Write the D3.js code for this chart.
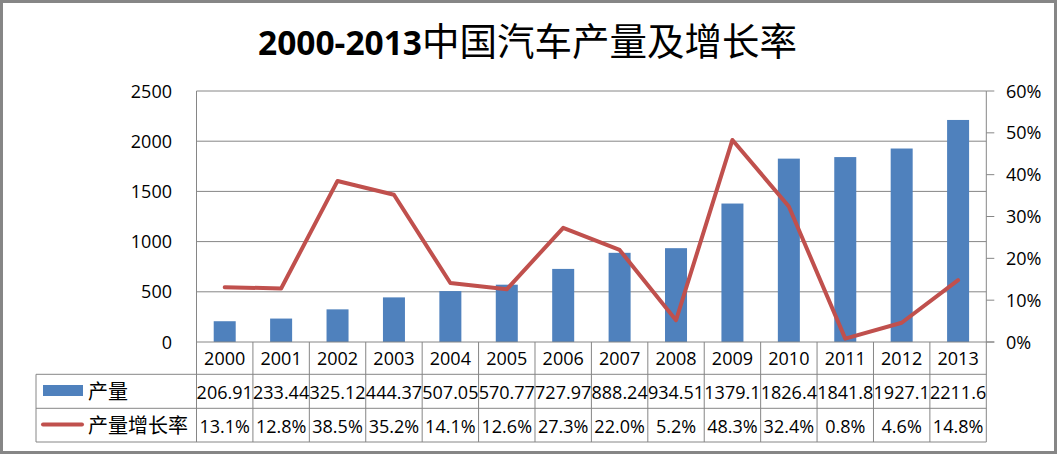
<!DOCTYPE html>
<html>
<head>
<meta charset="utf-8">
<script src="https://cdn.jsdelivr.net/npm/d3@7"></script>
<style>
    html, body { margin: 0; padding: 0; background: white; }
    svg { display: block; }
</style>
</head>
<body>
<svg id="chart"></svg>
<script>
'use strict';

const years = ['2000', '2001', '2002', '2003', '2004', '2005', '2006', '2007', '2008', '2009', '2010', '2011', '2012', '2013'];
const output = [206.91, 233.44, 325.12, 444.37, 507.05, 570.77, 727.97, 888.24, 934.51, 1379.1, 1826.4, 1841.8, 1927.1, 2211.6];
const growth = [13.1, 12.8, 38.5, 35.2, 14.1, 12.6, 27.3, 22.0, 5.2, 48.3, 32.4, 0.8, 4.6, 14.8];
const leftTicks = [0, 500, 1000, 1500, 2000, 2500];
const rightTicks = [0, 10, 20, 30, 40, 50, 60];
const seriesNames = ['产量', '产量增长率'];
const title = ['2000-2013', '中国汽车产量及增长率'];

const width = 1057;
const height = 454;
const plot = {left: 196.5, right: 986.3, top: 91, bottom: 342};
const rows = [342, 374.3, 408.3, 442];
const tableLeft = 36;

const numFont = '"Open Sans", sans-serif';
const cjkFont = '"Noto Sans CJK SC", sans-serif';
const gray = '#868686';
const blue = '#4F81BD';
const red = '#C0504D';

const svg = d3.select('#chart')
    .attr('width', width)
    .attr('height', height);

svg.append('rect')
    .attr('x', 1.5)
    .attr('y', 1.5)
    .attr('width', width - 3)
    .attr('height', height - 3)
    .attr('fill', 'white')
    .attr('stroke', gray)
    .attr('stroke-width', 3);

// title: bold latin digits + regular CJK
const titleText = svg.append('text')
    .attr('x', 258)
    .attr('y', 55)
    .attr('fill', 'black');
titleText.append('tspan')
    .attr('font-family', numFont)
    .attr('font-weight', 'bold')
    .attr('font-size', 33.5)
    .text(title[0]);
titleText.append('tspan')
    .attr('font-family', cjkFont)
    .attr('font-size', 37.5)
    .text(title[1]);

const x = d3.scaleBand()
    .domain(years)
    .range([plot.left, plot.right])
    .paddingInner(0.61)
    .paddingOuter(0.305);

const cell = d3.scaleBand()
    .domain(years)
    .range([plot.left, plot.right]);

const yLeft = d3.scaleLinear()
    .domain([0, 2500])
    .range([plot.bottom, plot.top]);

const yRight = d3.scaleLinear()
    .domain([0, 60])
    .range([plot.bottom, plot.top]);

// gridlines
svg.append('g')
    .attr('stroke', gray)
    .attr('stroke-width', 1)
    .selectAll('line')
    .data(leftTicks.slice(1))
    .join('line')
    .attr('x1', plot.left)
    .attr('x2', plot.right)
    .attr('y1', d => yLeft(d))
    .attr('y2', d => yLeft(d));

// left tick labels
svg.append('g')
    .attr('font-family', numFont)
    .attr('font-size', 18)
    .attr('text-anchor', 'end')
    .selectAll('text')
    .data(leftTicks)
    .join('text')
    .attr('x', 172)
    .attr('y', d => yLeft(d) + 6.5)
    .text(d => d);

// right axis
const right = svg.append('g');
right.append('line')
    .attr('x1', plot.right)
    .attr('x2', plot.right)
    .attr('y1', plot.top)
    .attr('y2', plot.bottom)
    .attr('stroke', gray);
right.selectAll('line.tick')
    .data(rightTicks)
    .join('line')
    .attr('class', 'tick')
    .attr('x1', plot.right)
    .attr('x2', plot.right + 8)
    .attr('y1', d => yRight(d))
    .attr('y2', d => yRight(d))
    .attr('stroke', gray);
right.selectAll('text')
    .data(rightTicks)
    .join('text')
    .attr('font-family', numFont)
    .attr('font-size', 18)
    .attr('x', 1006)
    .attr('y', d => yRight(d) + 6.5)
    .text(d => d + '%');

// bars
svg.append('g')
    .attr('fill', blue)
    .selectAll('rect')
    .data(years)
    .join('rect')
    .attr('x', d => x(d))
    .attr('width', x.bandwidth())
    .attr('y', (d, i) => yLeft(output[i]))
    .attr('height', (d, i) => plot.bottom - yLeft(output[i]));

// growth line
svg.append('path')
    .datum(growth)
    .attr('fill', 'none')
    .attr('stroke', red)
    .attr('stroke-width', 4)
    .attr('stroke-linejoin', 'round')
    .attr('stroke-linecap', 'round')
    .attr('d', d3.line()
        .x((d, i) => cell(years[i]) + cell.bandwidth() / 2)
        .y(d => yRight(d)));

// data table
const table = svg.append('g')
    .attr('stroke', gray)
    .attr('stroke-width', 1);

table.append('line')
    .attr('x1', plot.left)
    .attr('x2', plot.right + 8)
    .attr('y1', rows[0])
    .attr('y2', rows[0]);

table.selectAll('line.h')
    .data(rows.slice(1))
    .join('line')
    .attr('class', 'h')
    .attr('x1', tableLeft)
    .attr('x2', plot.right)
    .attr('y1', d => d)
    .attr('y2', d => d);

table.selectAll('line.v')
    .data([...years, 'end'])
    .join('line')
    .attr('class', 'v')
    .attr('x1', d => d === 'end' ? plot.right : cell(d))
    .attr('x2', d => d === 'end' ? plot.right : cell(d))
    .attr('y1', (d, i) => i === 0 ? plot.top : rows[0])
    .attr('y2', rows[3]);

table.append('line')
    .attr('x1', tableLeft)
    .attr('x2', tableLeft)
    .attr('y1', rows[1])
    .attr('y2', rows[3]);

const tableText = svg.append('g')
    .attr('font-family', numFont)
    .attr('font-size', 18)
    .attr('text-anchor', 'middle');

tableText.selectAll('text.year')
    .data(years)
    .join('text')
    .attr('class', 'year')
    .attr('x', d => cell(d) + cell.bandwidth() / 2)
    .attr('y', 365)
    .text(d => d);

tableText.selectAll('text.output')
    .data(output)
    .join('text')
    .attr('class', 'output')
    .attr('x', (d, i) => cell(years[i]) + cell.bandwidth() / 2)
    .attr('y', 398.5)
    .text(d => d);

tableText.selectAll('text.growth')
    .data(growth)
    .join('text')
    .attr('class', 'growth')
    .attr('x', (d, i) => cell(years[i]) + cell.bandwidth() / 2)
    .attr('y', 432.5)
    .text(d => d.toFixed(1) + '%');

// legend keys
svg.append('rect')
    .attr('x', 43)
    .attr('y', 385)
    .attr('width', 40)
    .attr('height', 11)
    .attr('fill', blue);

svg.append('line')
    .attr('x1', 43)
    .attr('x2', 82)
    .attr('y1', 424.5)
    .attr('y2', 424.5)
    .attr('stroke', red)
    .attr('stroke-width', 4)
    .attr('stroke-linecap', 'round');

svg.append('g')
    .attr('font-family', cjkFont)
    .attr('font-size', 20)
    .attr('dominant-baseline', 'central')
    .selectAll('text')
    .data(seriesNames)
    .join('text')
    .attr('x', 88)
    .attr('y', (d, i) => i === 0 ? 390 : 424)
    .text(d => d);
</script>
</body>
</html>
